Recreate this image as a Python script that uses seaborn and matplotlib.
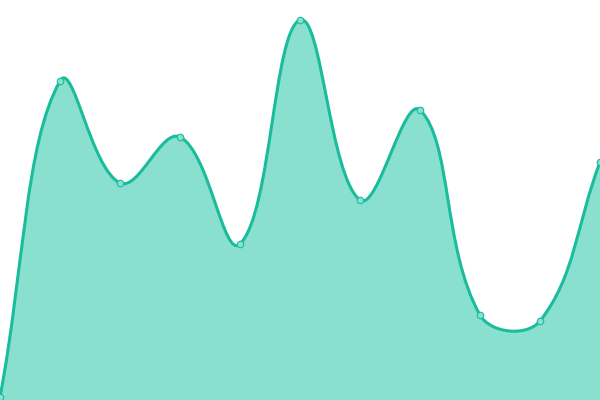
import numpy as np
import pandas as pd
import seaborn as sns
import matplotlib
matplotlib.use("Agg")
import matplotlib.pyplot as plt
from matplotlib.path import Path
from matplotlib.patches import PathPatch

# data
categories = list(range(11))
values = [3, 319, 217, 263, 156, 380, 200, 290, 85, 79, 238]

LINE = "#1abc9c"
FILL = "#89e0cf"
TENSION = 0.4

sns.set_theme(style="white")
fig = plt.figure(figsize=(6, 4), dpi=100)
ax = fig.add_axes([0, 0, 1, 1])
ax.set_xlim(0, 10)
ax.set_ylim(0, 400)
ax.set_axis_off()

df = pd.DataFrame({"x": categories, "y": values})

# spline control points computed in display space (Chart.js-like tension)
pts = ax.transData.transform(np.column_stack([df["x"], df["y"]]).astype(float))
n = len(pts)
verts = [pts[0]]
codes = [Path.MOVETO]
def ctrl(i):
    prev = pts[max(i - 1, 0)]
    cur = pts[i]
    nxt = pts[min(i + 1, n - 1)]
    d01 = np.hypot(*(cur - prev))
    d12 = np.hypot(*(nxt - cur))
    s = d01 + d12
    fa = TENSION * d01 / s if s else 0
    fb = TENSION * d12 / s if s else 0
    return cur - fa * (nxt - prev), cur + fb * (nxt - prev)
cps = [ctrl(i) for i in range(n)]
for i in range(n - 1):
    verts += [cps[i][1], cps[i + 1][0], pts[i + 1]]
    codes += [Path.CURVE4] * 3
inv = ax.transData.inverted()
dverts = inv.transform(np.array(verts))

line_path = Path(dverts, codes)
fill_verts = np.vstack([dverts, [[df["x"].iloc[-1], 0], [df["x"].iloc[0], 0], dverts[0]]])
fill_codes = codes + [Path.LINETO, Path.LINETO, Path.CLOSEPOLY]
ax.add_patch(PathPatch(Path(fill_verts, fill_codes), facecolor=FILL, edgecolor="none", zorder=1))
ax.add_patch(PathPatch(line_path, facecolor="none", edgecolor=LINE, lw=2.2, zorder=2, capstyle="round"))

sns.scatterplot(data=df, x="x", y="y", ax=ax, s=22, color=FILL, edgecolor=LINE,
                linewidth=0.8, zorder=3, legend=False, clip_on=False)
ax.set_xlim(0, 10)
ax.set_ylim(0, 400)
ax.set_axis_off()

fig.savefig("out.png", dpi=100)
